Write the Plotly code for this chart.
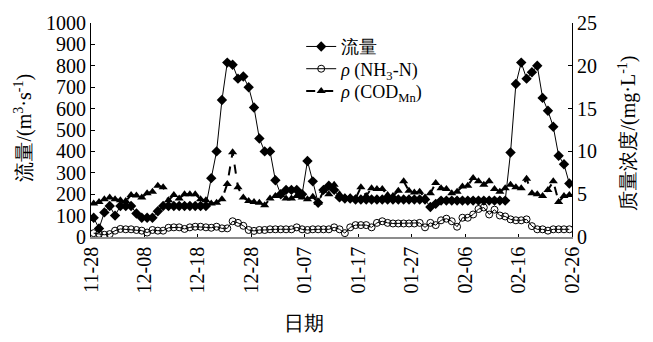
import pandas as pd
import plotly.graph_objects as go

# Daily observations, 2013-11-28 .. 2014-02-25
start_date = "2013-11-28"

# 流量 (m3/s), left axis
flow = [90, 40, 115, 145, 100, 145, 145, 145, 110, 90,
        90, 90, 120, 145, 145, 145, 145, 145, 145, 145,
        145, 145, 275, 400, 640, 815, 805, 740, 750, 700,
        605, 460, 400, 400, 265, 200, 220, 220, 220, 200,
        355, 260, 160, 220, 240, 220, 185, 180, 180, 175,
        175, 175, 175, 175, 175, 175, 175, 175, 175, 175,
        175, 175, 175, 140, 155, 170, 170, 170, 170, 170,
        170, 170, 170, 170, 170, 170, 170, 170, 395, 715,
        815, 740, 770, 800, 650, 590, 515, 380, 340, 250]

# ρ(NH3-N) (mg/L), right axis
nh3n = [0.45, 0.37, 0.26, 0.34, 0.74, 0.94, 0.90, 0.90, 0.82, 0.74,
        0.52, 0.82, 0.74, 0.74, 1.08, 1.13, 1.13, 0.94, 1.13, 1.20,
        1.20, 1.13, 1.08, 1.20, 1.01, 1.01, 1.84, 1.65, 1.31, 0.82,
        0.71, 0.82, 0.82, 0.90, 0.90, 0.90, 0.90, 0.90, 1.13, 0.90,
        0.82, 0.90, 0.90, 0.90, 0.90, 1.13, 0.90, 0.45, 1.13, 1.39,
        1.39, 1.39, 1.13, 1.65, 1.84, 1.65, 1.58, 1.58, 1.58, 1.58,
        1.58, 1.65, 1.13, 1.65, 1.39, 1.95, 2.14, 1.84, 1.20, 2.25,
        2.25, 2.63, 3.27, 3.45, 2.63, 3.19, 2.51, 2.40, 2.06, 1.95,
        1.95, 2.06, 1.27, 0.90, 0.90, 0.74, 0.90, 0.90, 0.90, 0.90]

# ρ(CODMn) (mg/L), right axis
codmn = [3.9, 4.1, 4.4, 4.6, 4.4, 4.3, 4.2, 4.9, 4.85, 4.6,
         5.1, 5.3, 6.0, 5.8, 4.3, 4.9, 4.5, 5.0, 5.0, 5.0,
         4.4, 4.3, 3.9, 4.0, 4.4, 6.2, 9.9, 5.8, 4.6, 4.2,
         4.1, 4.0, 3.7, 4.5, 4.8, 4.9, 4.5, 4.5, 4.8, 4.6,
         4.4, 4.7, 4.0, 5.4, 5.0, 6.1, 5.0, 4.6, 4.6, 4.5,
         5.8, 4.8, 5.7, 5.6, 5.6, 4.9, 4.8, 5.4, 6.5, 5.4,
         5.2, 5.3, 4.6, 5.1, 6.3, 5.7, 5.6, 5.1, 5.3, 5.9,
         6.0, 6.9, 6.5, 6.1, 6.5, 5.6, 5.3, 5.7, 6.1, 5.8,
         5.7, 6.8, 5.1, 5.0, 4.8, 5.5, 6.5, 4.1, 4.8, 4.9]

# each day's sample plotted at midday so the date ticks fall on day boundaries
dates = pd.date_range(start_date, periods=len(flow), freq="D") + pd.Timedelta(hours=12)

SERIF = "Liberation Serif"
BLACK = "#000000"

fig = go.Figure()

fig.add_trace(go.Scatter(
    x=dates, y=flow, name="流量", mode="lines+markers", legend="legend",
    line=dict(color=BLACK, width=1),
    marker=dict(symbol="diamond", size=8, color=BLACK),
))
fig.add_trace(go.Scatter(
    x=dates, y=nh3n, name="<i>ρ</i> (NH<sub>3</sub>-N)", mode="lines+markers",
    yaxis="y2", legend="legend2",
    line=dict(color=BLACK, width=1),
    marker=dict(symbol="circle-open", size=7, color=BLACK, line=dict(width=1)),
))
fig.add_trace(go.Scatter(
    x=dates, y=codmn, name="<i>ρ</i> (COD<sub>Mn</sub>)", mode="lines+markers",
    yaxis="y2", legend="legend3",
    line=dict(color=BLACK, width=2, dash="dash"),
    marker=dict(symbol="triangle-up", size=8, color=BLACK),
))

# one legend box per series, stacked tightly at the top of the plot
legend_style = dict(
    x=0.437, xanchor="left", yanchor="middle",
    bgcolor="rgba(0,0,0,0)", font=dict(family=SERIF, size=18),
)

fig.update_layout(
    width=653, height=342,
    margin=dict(l=91, r=81, t=15, b=105),
    paper_bgcolor="white", plot_bgcolor="white",
    font=dict(family=SERIF, size=20, color=BLACK),
    showlegend=True,
    legend=dict(legend_style, y=0.889),
    legend2=dict(legend_style, y=0.785),
    legend3=dict(legend_style, y=0.681),
    xaxis=dict(
        type="date",
        range=["2013-11-28", "2014-02-26"],
        tick0="2013-11-28", dtick=10 * 86400000,
        tickformat="%m-%d", tickangle=-90,
        ticks="inside", ticklen=3, tickcolor=BLACK,
        showline=True, linecolor="#8c8c8c", linewidth=1.5,
        showgrid=False, zeroline=False,
        tickfont=dict(family=SERIF, size=20),
    ),
    yaxis=dict(
        range=[0, 1000], dtick=100,
        ticks="inside", ticklen=4, tickcolor=BLACK,
        showline=True, linecolor=BLACK, linewidth=1,
        showgrid=False, zeroline=False,
        tickfont=dict(family=SERIF, size=20),
    ),
    yaxis2=dict(
        range=[0, 25], dtick=5, overlaying="y", side="right",
        ticks="inside", ticklen=4, tickcolor=BLACK,
        showline=True, linecolor=BLACK, linewidth=1,
        showgrid=False, zeroline=False,
        tickfont=dict(family=SERIF, size=20),
    ),
    annotations=[
        dict(text="流量/(m<sup>3</sup>·s<sup>-1</sup>)", textangle=-90,
             xref="paper", yref="paper", x=-0.14, y=0.51,
             xanchor="center", yanchor="middle", showarrow=False,
             font=dict(family=SERIF, size=20)),
        dict(text="质量浓度/(mg·L<sup>-1</sup>)", textangle=-90,
             xref="paper", yref="paper", x=1.115, y=0.485,
             xanchor="center", yanchor="middle", showarrow=False,
             font=dict(family=SERIF, size=20)),
        dict(text="日期", xref="paper", yref="paper", x=0.443, y=-0.40,
             xanchor="center", yanchor="middle", showarrow=False,
             font=dict(family=SERIF, size=20)),
    ],
)

fig.write_html("out.html")
